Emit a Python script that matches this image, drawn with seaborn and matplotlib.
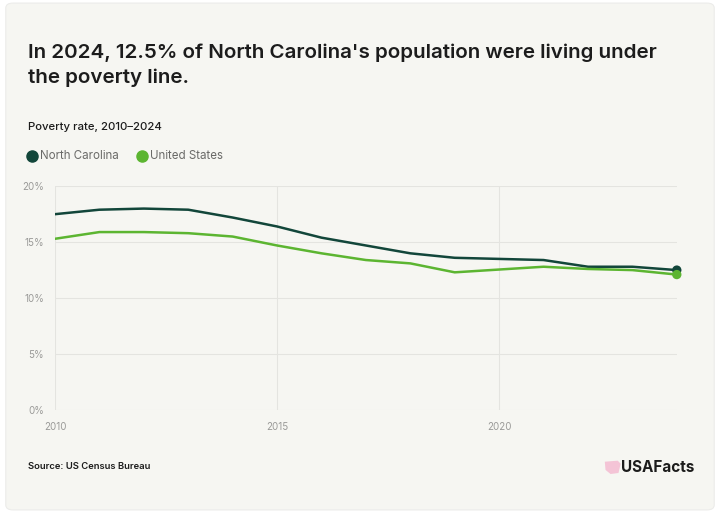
import matplotlib
matplotlib.use("Agg")
import matplotlib.pyplot as plt
import seaborn as sns
import pandas as pd
from matplotlib.patches import FancyBboxPatch, Polygon
from matplotlib.lines import Line2D

years = [2010, 2011, 2012, 2013, 2014, 2015, 2016, 2017, 2018, 2019, 2021, 2022, 2023, 2024]
north_carolina = [17.5, 17.9, 18.0, 17.9, 17.2, 16.4, 15.4, 14.7, 14.0, 13.6, 13.4, 12.8, 12.8, 12.5]
united_states = [15.3, 15.9, 15.9, 15.8, 15.5, 14.7, 14.0, 13.4, 13.1, 12.3, 12.8, 12.6, 12.5, 12.1]
series_names = ["North Carolina", "United States"]
y_ticks = [0, 5, 10, 15, 20]
x_ticks = [2010, 2015, 2020]

df = pd.DataFrame({
    "year": years * 2,
    "rate": north_carolina + united_states,
    "region": [series_names[0]] * len(years) + [series_names[1]] * len(years),
})

sns.set_style("white")
plt.rcParams["font.family"] = ["Inter", "DejaVu Sans"]

BG = "#f6f6f2"
NC_COLOR = "#12463a"
US_COLOR = "#5cb531"
palette = {series_names[0]: NC_COLOR, series_names[1]: US_COLOR}

fig = plt.figure(figsize=(7.2, 5.13), dpi=100)
fig.patch.set_facecolor("white")
card = FancyBboxPatch((0.008, 0.006), 0.984, 0.988, boxstyle="round,pad=0,rounding_size=0.01",
                      transform=fig.transFigure, facecolor=BG, edgecolor="#ececea", lw=0.8, zorder=-5)
fig.patches.append(card)

ax = fig.add_axes([0.0764, 0.201, 0.8636, 0.436])
ax.set_zorder(2)
ax.set_facecolor(BG)
ax.patch.set_alpha(0)

sns.lineplot(data=df, x="year", y="rate", hue="region", palette=palette, ax=ax,
             linewidth=1.8, legend=False, zorder=3)
last = df[df["year"] == years[-1]]
sns.scatterplot(data=last, x="year", y="rate", hue="region", palette=palette, ax=ax,
                s=45, legend=False, zorder=4, edgecolor="none", clip_on=False)

ax.set_xlim(2010, 2024)
ax.set_ylim(0, 20)
ax.set_yticks(y_ticks)
ax.set_yticklabels([f"{t}%" for t in y_ticks])
ax.set_xticks(x_ticks)
ax.set_xticklabels([str(t) for t in x_ticks])
ax.grid(True, color="#e4e4e0", lw=0.8)
for s in ax.spines.values():
    s.set_visible(False)
ax.tick_params(axis="both", length=0, labelsize=7, labelcolor="#9a9a98")
ax.tick_params(axis="y", pad=8)
ax.tick_params(axis="x", pad=9)
ax.set_xlabel("")
ax.set_ylabel("")

fig.text(0.039, 0.873, "In 2024, 12.5% of North Carolina's population were living under\nthe poverty line.",
         fontsize=14.8, fontweight="semibold", color="#1c1c1c", va="center", ha="left", linespacing=1.45)
fig.text(0.039, 0.752, "Poverty rate, 2010–2024", fontsize=8.2, fontweight="medium", color="#1c1c1c",
         va="center", ha="left")

# legend
fig.lines.append(Line2D([0.045], [0.696], marker="o", markersize=8, color=NC_COLOR, lw=0,
                        transform=fig.transFigure))
fig.text(0.056, 0.696, series_names[0], fontsize=8.3, color="#6a6a68", va="center", ha="left")
fig.lines.append(Line2D([0.197], [0.696], marker="o", markersize=8, color=US_COLOR, lw=0,
                        transform=fig.transFigure))
fig.text(0.208, 0.696, series_names[1], fontsize=8.3, color="#6a6a68", va="center", ha="left")

fig.text(0.039, 0.09, "Source: US Census Bureau", fontsize=6.8, fontweight="semibold", color="#1c1c1c",
         va="center", ha="left")

# logo
flag = Polygon([[0.840, 0.100], [0.858, 0.102], [0.862, 0.096], [0.859, 0.078], [0.848, 0.076], [0.841, 0.084]],
               closed=True, transform=fig.transFigure, facecolor="#f4c4d6", edgecolor="none")
fig.patches.append(flag)
fig.text(0.965, 0.089, "USAFacts", fontsize=11, fontweight="bold", color="#1c1c1c",
         va="center", ha="right")

fig.savefig("out.png", dpi=100, facecolor=fig.get_facecolor())
